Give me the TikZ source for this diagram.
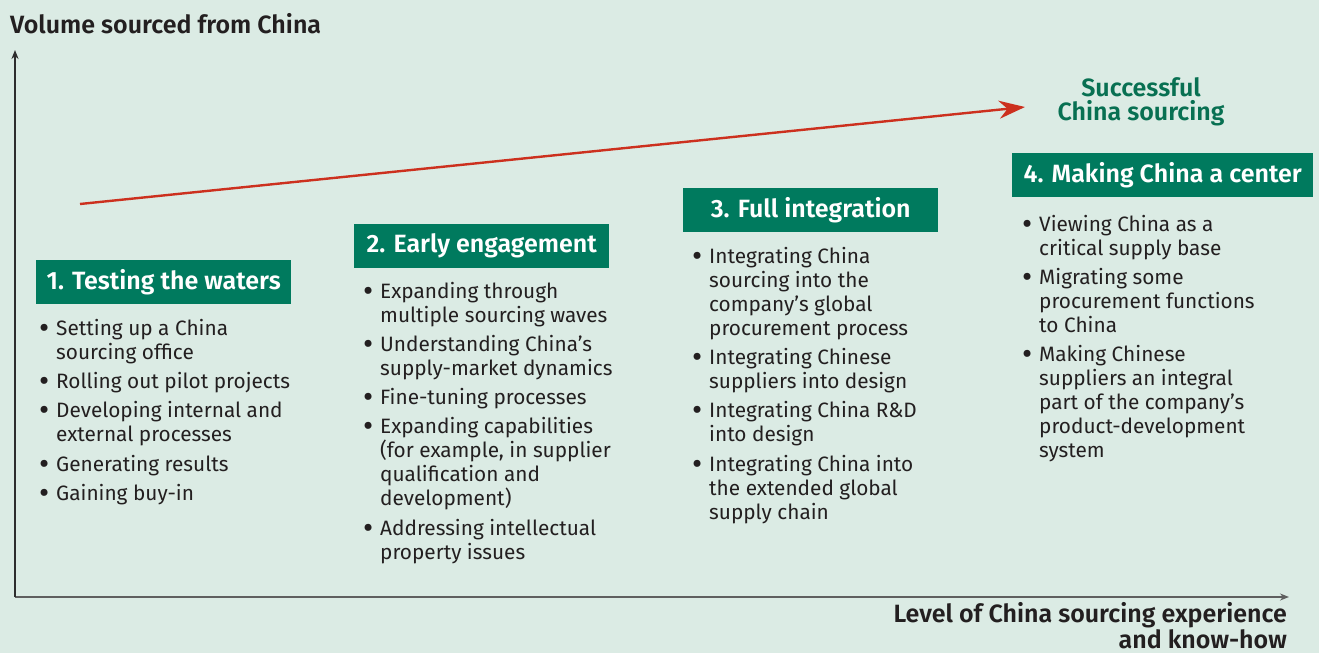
\documentclass[tikz,border=0pt]{standalone}
\usepackage{fontspec}
\setmainfont{Fira Sans}[BoldFont={Fira Sans SemiBold}]
\usetikzlibrary{arrows.meta}
\definecolor{bg}{RGB}{219,235,228}
\definecolor{boxgreen}{RGB}{0,122,94}
\definecolor{titlegreen}{RGB}{8,112,82}
\definecolor{ink}{RGB}{35,31,32}
\definecolor{axisdark}{RGB}{45,45,45}
\definecolor{axisgray}{RGB}{95,95,95}
\definecolor{redline}{RGB}{204,48,30}
\newcommand\mybullet{\llap{\raisebox{-3.2pt}{\scalebox{1.5}{•}}\hspace{7pt}}}
\begin{document}
\begin{tikzpicture}[x=1pt,y=-1pt,
  phase/.style={fill=boxgreen, text=white, font=\fontsize{25}{28}\selectfont\bfseries,
    minimum width=255pt, minimum height=44pt, anchor=north west, inner sep=0pt},
  itm/.style={anchor=base west, align=left, inner sep=0pt, text=ink,
    font=\fontsize{20.8}{24}\selectfont},
  axislbl/.style={text=ink, font=\fontsize{25}{22.5}\selectfont\bfseries, inner sep=0pt},
  goal/.style={text=titlegreen, font=\fontsize{25}{24}\selectfont\bfseries, inner sep=0pt, align=center},
  axisline/.style={line width=1.6pt},
]
\fill[bg] (0,0) rectangle (1319,653);
\useasboundingbox (0,0) rectangle (1319,653);

% axes
\coordinate (origin) at (15,597);
\coordinate (ytip) at (15,50);
\coordinate (xtip) at (1289,597);
\draw[axisline, axisgray, -{Stealth[length=9pt,width=7pt]}] (origin) -- (xtip);
\draw[axisline, axisdark, -{Stealth[length=9pt,width=7pt]}] (origin) -- (ytip);

\node[axislbl, anchor=base west] (ylabel) at (10,33) {Volume sourced from China};
\node[axislbl, anchor=base east, align=right] (xlabel) at (1287,648)
  {Level of China sourcing experience\\and know-how};

% red trend arrow
\coordinate (rstart) at (80,204);
\coordinate (rend) at (1025,107);
\draw[redline, line width=2.4pt, -{Stealth[length=26pt,width=18pt]}] (rstart) -- (rend);
\node[goal, anchor=base] (goal) at (1141,120) {Successful\\China sourcing};

% phase boxes
\node[phase] (p1) at (36,260) {1. Testing the waters};
\node[phase] (p2) at (354,224) {2. Early engagement};
\node[phase] (p3) at (683,188) {3. Full integration};
\node[phase, minimum width=301pt] (p4) at (1012,153) {4. Making China a center};

% phase 1 items (anchor = baseline of last line)
\node[itm] (a1) at (56,359) {\mybullet Setting up a China\\sourcing office};
\node[itm] (a2) at (56,388) {\mybullet Rolling out pilot projects};
\node[itm] (a3) at (56,441) {\mybullet Developing internal and\\external processes};
\node[itm] (a4) at (56,471) {\mybullet Generating results};
\node[itm] (a5) at (56,500) {\mybullet Gaining buy-in};

% phase 2 items
\node[itm] (b1) at (380,322) {\mybullet Expanding through\\multiple sourcing waves};
\node[itm] (b2) at (380,375) {\mybullet Understanding China’s\\supply-market dynamics};
\node[itm] (b3) at (380,404) {\mybullet Fine-tuning processes};
\node[itm] (b4) at (380,505) {\mybullet Expanding capabilities\\(for example, in supplier\\qualification and\\development)};
\node[itm] (b5) at (380,559) {\mybullet Addressing intellectual\\property issues};

% phase 3 items
\node[itm] (c1) at (709,335) {\mybullet Integrating China\\sourcing into the\\company’s global\\procurement process};
\node[itm] (c2) at (709,388) {\mybullet Integrating Chinese\\suppliers into design};
\node[itm] (c3) at (709,441) {\mybullet Integrating China R\&D\\into design};
\node[itm] (c4) at (709,519) {\mybullet Integrating China into\\the extended global\\supply chain};

% phase 4 items
\node[itm] (d1) at (1039,255) {\mybullet Viewing China as a\\critical supply base};
\node[itm] (d2) at (1039,332) {\mybullet Migrating some\\procurement functions\\to China};
\node[itm] (d3) at (1039,457) {\mybullet Making Chinese\\suppliers an integral\\part of the company’s\\product-development\\system};
\end{tikzpicture}
\end{document}
